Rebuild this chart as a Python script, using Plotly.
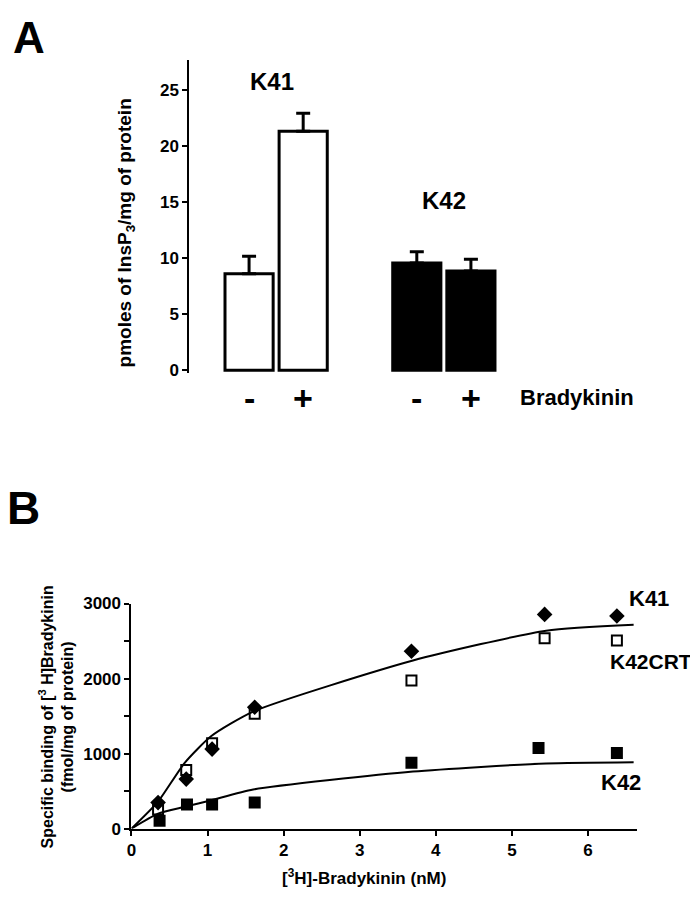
import plotly.graph_objects as go

FONT = "Liberation Sans, Arial, sans-serif"
W, H = 698, 899
# the page body keeps its default 8px margin, so the figure is drawn
# 8px smaller and every pixel position is measured from that offset
PAD = 8
FW, FH = W - PAD, H - PAD

# ---- panel A data: InsP3 production
a_groups = ["K41", "K41", "K42", "K42"]
a_treat = ["-", "+", "-", "+"]
a_values = [8.6, 21.3, 9.55, 8.85]
a_err = [1.55, 1.6, 1.0, 1.05]
a_colors = ["white", "white", "black", "black"]

# ---- panel B data: saturation binding
b_conc = [0.35, 0.72, 1.06, 1.62, 3.68, 5.43, 6.38]
b_conc_k42 = [0.37, 0.73, 1.06, 1.62, 3.68, 5.35, 6.38]
b_k41 = [347, 660, 1060, 1617, 2364, 2855, 2833]
b_k42crt = [256, 782, 1138, 1530, 1973, 2537, 2507]
b_k42 = [104, 321, 321, 347, 877, 1073, 1008]

fit_x = [0, 0.35, 0.7, 1.05, 1.6, 3.7, 5.45, 6.6]
fit_upper = [0, 360, 877, 1234, 1560, 2240, 2638, 2716]
fit_lower = [0, 200, 291, 378, 521, 760, 869, 886]


def px_x(p):
    return (p - PAD) / FW


def px_y(p):
    return 1 - (p - PAD) / FH


# bar positions: one unit per bar, extra gap between the two cell lines
group_names = list(dict.fromkeys(a_groups))
a_x = [i + 1.1 * group_names.index(g) for i, g in enumerate(a_groups)]

fig = go.Figure()

fig.add_trace(go.Bar(
    x=a_x, y=a_values, width=0.89,
    marker=dict(color=a_colors, line=dict(color="black", width=3)),
    error_y=dict(type="data", symmetric=False, array=a_err,
                 arrayminus=[0] * len(a_err), color="black",
                 thickness=3, width=7),
    xaxis="x", yaxis="y", showlegend=False,
))

# panel B fitted curves
for fy in (fit_upper, fit_lower):
    fig.add_trace(go.Scatter(
        x=fit_x, y=fy, mode="lines",
        line=dict(color="black", width=2, shape="spline", smoothing=0.6),
        xaxis="x2", yaxis="y2", showlegend=False, hoverinfo="skip",
    ))

fig.add_trace(go.Scatter(
    x=b_conc, y=b_k41, mode="markers", name="K41",
    marker=dict(symbol="diamond", size=12, color="black"),
    xaxis="x2", yaxis="y2", showlegend=False,
))
fig.add_trace(go.Scatter(
    x=b_conc, y=b_k42crt, mode="markers", name="K42CRT",
    marker=dict(symbol="square-open", size=10, color="black",
                line=dict(width=2)),
    xaxis="x2", yaxis="y2", showlegend=False,
))
fig.add_trace(go.Scatter(
    x=b_conc_k42, y=b_k42, mode="markers", name="K42",
    marker=dict(symbol="square", size=12, color="black"),
    xaxis="x2", yaxis="y2", showlegend=False,
))

# axis geometry (pixels -> paper)
ya_px_per = 11.47
ya_zero = 369.0
ya_lo, ya_hi = -0.25, 27.6
xa_unit, xa_c0 = 54.5, 245.8
xa_left_px, xa_right_px = 185.7, 690

tick_b = dict(family=FONT, size=17, color="black", weight="bold")

fig.update_layout(
    width=FW, height=FH,
    paper_bgcolor="white", plot_bgcolor="white",
    margin=dict(l=0, r=0, t=0, b=0),
    font=dict(family=FONT, color="black"),
    xaxis=dict(
        domain=[px_x(xa_left_px), px_x(xa_right_px)],
        range=[-(xa_c0 - xa_left_px) / xa_unit, (xa_right_px - xa_c0) / xa_unit],
        showline=False, showgrid=False, zeroline=False,
        showticklabels=False, ticks="",
        anchor="y",
    ),
    yaxis=dict(
        domain=[px_y(ya_zero - ya_lo * ya_px_per), px_y(ya_zero - ya_hi * ya_px_per)],
        range=[ya_lo, ya_hi],
        showline=True, linecolor="black", linewidth=2,
        showgrid=False, zeroline=False,
        tickvals=[0, 5, 10, 15, 20, 25],
        ticks="outside", ticklen=5, tickwidth=2, tickcolor="black",
        tickfont=tick_b,
        anchor="x",
    ),
    xaxis2=dict(
        domain=[px_x(127.3), px_x(637)],
        range=[0, 6.65],
        showline=True, linecolor="black", linewidth=2,
        showgrid=False, zeroline=False,
        tickvals=[0, 1, 2, 3, 4, 5, 6],
        ticks="outside", ticklen=5, tickwidth=2, tickcolor="black",
        tickfont=tick_b,
        anchor="y2",
    ),
    yaxis2=dict(
        domain=[px_y(837.3), px_y(607.3)],
        range=[0, 3000],
        showline=True, linecolor="black", linewidth=2,
        showgrid=False, zeroline=False,
        tickvals=[0, 1000, 2000, 3000],
        ticks="outside", ticklen=5, tickwidth=1.5, tickcolor="black",
        minor=dict(dtick=500, ticks="outside", ticklen=5, tickwidth=1.5,
                   tickcolor="black", showgrid=False),
        tickfont=tick_b,
        anchor="x2",
    ),
)


def label(text, x, y, size, angle=0, xanchor="center", xref="paper"):
    fig.add_annotation(
        text=text, x=x if xref != "paper" else px_x(x), y=px_y(y),
        xref=xref, yref="paper",
        showarrow=False, textangle=angle, xanchor=xanchor, yanchor="middle",
        font=dict(family=FONT, size=size, color="black", weight="bold"),
    )


# panel A texts
label("A", 24, 29, 44)
label("K41", 269, 74, 24)
label("K42", 442, 196, 24)
for xv, t in zip(a_x, a_treat):
    label(t, xv, 397, 34, xref="x")
label("Bradykinin", 517, 397, 22, xanchor="left")
label("pmoles of InsP<sub>3</sub>/mg of protein", 122, 229, 19, angle=-90)

# panel B texts
label("B", 19, 510, 46)
label("K41", 626, 602, 22, xanchor="left")
label("K42CRT", 694, 667, 21, xanchor="right")
label("K42", 598, 790, 22, xanchor="left")
label("[<sup>3</sup>H]-Bradykinin (nM)", 362, 887, 17)
label("Specific binding of [<sup>3</sup> H]Bradykinin<br>(fmol/mg of protein)",
      52, 723, 16, angle=-90)

fig.write_html("out.html")
